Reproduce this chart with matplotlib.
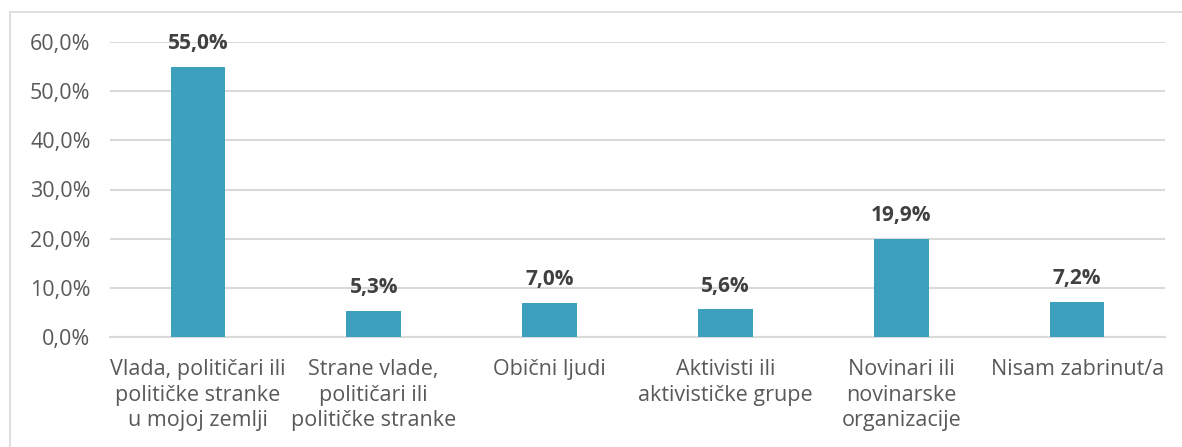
import matplotlib.pyplot as plt
from matplotlib.patches import Rectangle

# Data
categories = ["Vlada, političari ili\npolitičke stranke\nu mojoj zemlji",
              "Strane vlade,\npolitičari ili\npolitičke stranke",
              "Obični ljudi",
              "Aktivisti ili\naktivističke grupe",
              "Novinari ili\nnovinarske\norganizacije",
              "Nisam zabrinut/a"]
values = [55.0, 5.3, 7.0, 5.6, 19.9, 7.2]
yticks = [0, 10, 20, 30, 40, 50, 60]

plt.rcParams['font.family'] = ['Open Sans', 'DejaVu Sans']

fig = plt.figure(figsize=(11.82, 4.47), dpi=100)
# outer chart border
fig.patches.append(Rectangle((10 / 1182, -0.01), 1.2, 1 - 12 / 447 + 0.01,
                             transform=fig.transFigure, fill=False,
                             edgecolor="#d9d9d9", linewidth=1.2))

ax = fig.add_axes([110 / 1182, 1 - 337 / 447, 1055 / 1182, 295 / 447])
x = range(len(values))
ax.bar(x, values, width=0.31, color="#3CA0BE", zorder=3)

for xi, v in zip(x, values):
    ax.text(xi, v + 2.6, f"{v:.1f}%".replace(".", ","), ha="center", va="bottom",
            fontsize=15, fontweight="bold", color="#404040")

ax.set_xlim(-0.5, len(values) - 0.5)
ax.set_ylim(0, 60)
ax.set_yticks(yticks)
ax.set_yticklabels([f"{t:.1f}%".replace(".", ",") for t in yticks])
ax.set_xticks(list(x))
ax.set_xticklabels(categories, linespacing=1.28)
ax.tick_params(axis="both", length=0, labelsize=15.5, labelcolor="#595959")
ax.tick_params(axis="y", pad=14)
ax.tick_params(axis="x", pad=16)
ax.grid(axis="y", color="#d9d9d9", linewidth=1.5, zorder=0)
for s in ["top", "right", "left"]:
    ax.spines[s].set_visible(False)
ax.spines["bottom"].set_color("#d9d9d9")
ax.spines["bottom"].set_linewidth(1.5)

fig.savefig("out.png", dpi=100)
